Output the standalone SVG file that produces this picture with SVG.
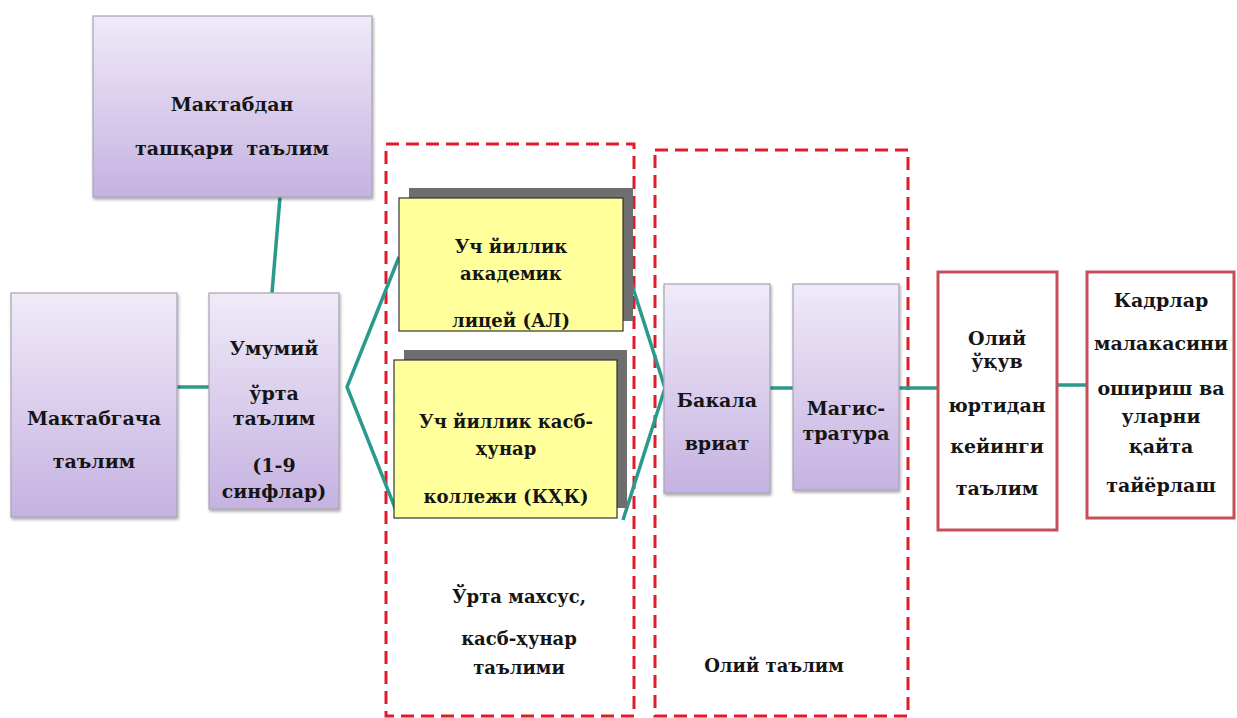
<svg xmlns="http://www.w3.org/2000/svg" width="1237" height="718" viewBox="0 0 1237 718">
<style>
.t{font-family:'DejaVu Serif','Liberation Serif',serif;font-weight:700;font-size:19px;fill:#151515;text-anchor:middle}
.s{font-size:18px}
.pb{fill:url(#pg);stroke:#a9a2b6;stroke-width:1.2}
.yb{fill:#ffff9c;stroke:#333;stroke-width:1.2}
.sh{fill:#6e6e6e}
.rb{fill:#fff;stroke:#c44f58;stroke-width:3}
.dash{fill:none;stroke:#e01b2b;stroke-width:3;stroke-dasharray:13 7}
.c{fill:none;stroke:#2a9a8c;stroke-width:3.5}
</style>
<defs>
<linearGradient id="pg" x1="0" y1="0" x2="0" y2="1">
<stop offset="0" stop-color="#f0eaf8"/>
<stop offset="1" stop-color="#c5b2e1"/>
</linearGradient>
<filter id="ds" x="-10%" y="-10%" width="130%" height="130%">
<feGaussianBlur in="SourceAlpha" stdDeviation="1.5"/>
<feOffset dx="1" dy="2" result="b"/>
<feComponentTransfer><feFuncA type="linear" slope="0.35"/></feComponentTransfer>
<feMerge><feMergeNode/><feMergeNode in="SourceGraphic"/></feMerge>
</filter>
</defs>
<rect width="1237" height="718" fill="#fff"/>
<g id="groups">
<rect class="dash" x="386" y="144" width="248" height="572"/>
<rect class="dash" x="655" y="150" width="253" height="566"/>
</g>
<g id="connectors">
<line class="c" x1="280" y1="197" x2="272" y2="293"/>
<line class="c" x1="177" y1="387" x2="209" y2="387"/>
<polyline class="c" points="399,257 347,387 399,518"/>
<polyline class="c" points="623,257 665,388 623,520"/>
<line class="c" x1="770" y1="388" x2="793" y2="388"/>
<line class="c" x1="899" y1="388" x2="938" y2="388"/>
<line class="c" x1="1057" y1="385" x2="1087" y2="385"/>
</g>
<g id="n-tashqari">
<rect class="pb" filter="url(#ds)" x="93" y="16" width="279" height="181"/>
<text class="t" x="232" y="111" font-size="20">Мактабдан</text>
<text class="t" x="232" y="155" font-size="20" xml:space="preserve">ташқари  таълим</text>
</g>
<g id="n-maktabgacha">
<rect class="pb" filter="url(#ds)" x="11" y="293" width="166" height="224"/>
<text class="t" x="94" y="425">Мактабгача</text>
<text class="t" x="94" y="468">таълим</text>
</g>
<g id="n-umumiy">
<rect class="pb" filter="url(#ds)" x="209" y="293" width="130" height="216"/>
<text class="t" x="274" y="355">Умумий</text>
<text class="t" x="274" y="400">ўрта</text>
<text class="t" x="274" y="425">таълим</text>
<text class="t" x="274" y="472">(1-9</text>
<text class="t" x="274" y="498">синфлар)</text>
</g>
<g id="n-al">
<rect class="sh" x="409" y="188" width="224" height="133"/>
<rect class="yb" x="399" y="198" width="224" height="133"/>
<text class="t s" x="511" y="253">Уч йиллик</text>
<text class="t s" x="511" y="280">академик</text>
<text class="t s" x="511" y="327">лицей (АЛ)</text>
</g>
<g id="n-kxk">
<rect class="sh" x="404" y="350" width="223" height="158"/>
<rect class="yb" x="394" y="360" width="223" height="158"/>
<text class="t s" x="506" y="428">Уч йиллик касб-</text>
<text class="t s" x="506" y="455">ҳунар</text>
<text class="t s" x="506" y="503">коллежи (КҲК)</text>
</g>
<g id="n-bakalavriat">
<rect class="pb" filter="url(#ds)" x="664" y="284" width="106" height="209"/>
<text class="t" x="717" y="407">Бакала</text>
<text class="t" x="717" y="450">вриат</text>
</g>
<g id="n-magistratura">
<rect class="pb" filter="url(#ds)" x="793" y="284" width="106" height="206"/>
<text class="t" x="846" y="415">Магис-</text>
<text class="t" x="846" y="440">тратура</text>
</g>
<g id="n-oliydan-keyingi">
<rect class="rb" x="938" y="272" width="119" height="258"/>
<text class="t" x="997" y="345">Олий</text>
<text class="t" x="997" y="368">ўқув</text>
<text class="t" x="997" y="412">юртидан</text>
<text class="t" x="997" y="453">кейинги</text>
<text class="t" x="997" y="495">таълим</text>
</g>
<g id="n-kadrlar">
<rect class="rb" x="1087" y="272" width="147" height="246"/>
<text class="t" x="1161" y="307" font-size="20">Кадрлар</text>
<text class="t" x="1161" y="350" font-size="20">малакасини</text>
<text class="t" x="1161" y="395" font-size="20">ошириш ва</text>
<text class="t" x="1161" y="423" font-size="20">уларни</text>
<text class="t" x="1161" y="453" font-size="20">қайта</text>
<text class="t" x="1161" y="492" font-size="20">тайёрлаш</text>
</g>
<g id="labels">
<text class="t s" x="519" y="603">Ўрта махсус,</text>
<text class="t s" x="519" y="645">касб-ҳунар</text>
<text class="t s" x="519" y="674">таълими</text>
<text class="t s" x="774" y="672">Олий таълим</text>
</g>
</svg>
